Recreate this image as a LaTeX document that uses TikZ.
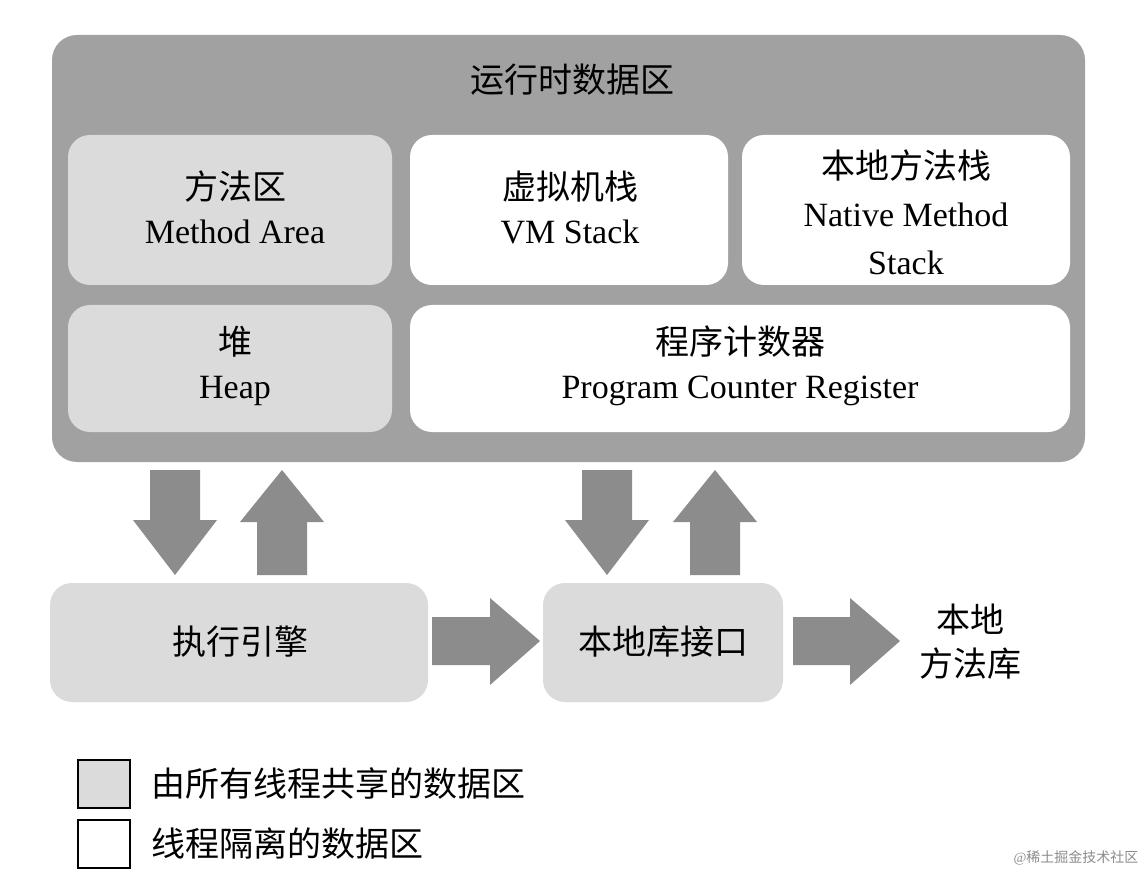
\documentclass[tikz,border=0pt]{standalone}
\usepackage{fontspec}
\setmainfont{Liberation Serif}
\newfontfamily\cjk{Noto Sans CJK SC}
\begin{document}
\begin{tikzpicture}[x=1pt,y=-1pt,
  shared/.style={draw=none,fill=black!14,rounded corners=22pt},
  priv/.style={draw=none,fill=white,rounded corners=22pt},
  lbl/.style={align=center,font=\fontsize{34}{44}\selectfont},
  arr/.style={fill=black!45,draw=none}]
\useasboundingbox (0,0) rectangle (1148,874);
\fill[white] (0,0) rectangle (1148,874);
\fill[black!37,rounded corners=25pt] (52,35) rectangle (1085,462);
\node[lbl] (title) at (572,80) {\cjk 运行时数据区};
\fill[shared] (68,135) rectangle (392,285);
\node[lbl] (ma) at (235,207) {{\cjk 方法区}\\Method Area};
\fill[priv] (410,135) rectangle (728,285);
\node[lbl] (vm) at (570,207) {{\cjk 虚拟机栈}\\VM Stack};
\fill[priv] (742,135) rectangle (1070,285);
\node[lbl,font=\fontsize{34}{48}\selectfont] (ns) at (906,212) {{\cjk 本地方法栈}\\Native Method\\Stack};
\fill[shared] (68,305) rectangle (392,432);
\node[lbl] (heap) at (235,366) {{\cjk 堆}\\Heap};
\fill[priv] (410,305) rectangle (1070,432);
\node[lbl] (pc) at (740,366) {{\cjk 程序计数器}\\Program Counter Register};
% vertical arrows
\newcommand\darr[1]{\fill[arr] (#1-25,470) -- (#1+25,470) -- (#1+25,520) -- (#1+42,520) -- (#1,575) -- (#1-42,520) -- (#1-25,520) -- cycle;}
\newcommand\uarr[1]{\fill[arr] (#1-25,575) -- (#1+25,575) -- (#1+25,522) -- (#1+42,522) -- (#1,470) -- (#1-42,522) -- (#1-25,522) -- cycle;}
\newcommand\rarr[2]{\fill[arr] (#1,617) -- (#2-50,617) -- (#2-50,598) -- (#2,641) -- (#2-50,685) -- (#2-50,665) -- (#1,665) -- cycle;}
\darr{175}\uarr{282}\darr{607}\uarr{715}
\fill[shared] (50,583) rectangle (428,702);
\node[lbl] (ee) at (240,642) {\cjk 执行引擎};
\fill[shared] (543,583) rectangle (783,702);
\node[lbl] (ni) at (663,642) {\cjk 本地库接口};
\rarr{432}{540}\rarr{793}{900}
\node[lbl] (nl) at (970,642) {{\cjk 本地}\\{\cjk 方法库}};
\draw[line width=1.5pt,fill=black!14] (78,760) rectangle (130,808);
\node[lbl,anchor=west] (l1) at (148,784) {\cjk 由所有线程共享的数据区};
\draw[line width=1.5pt,fill=white] (78,820) rectangle (130,868);
\node[lbl,anchor=west] (l2) at (148,844) {\cjk 线程隔离的数据区};
\node[anchor=east,text=black!45,font=\fontsize{14}{16}\selectfont] (wm) at (1142,858) {@{\cjk 稀土掘金技术社区}};
\end{tikzpicture}
\end{document}
